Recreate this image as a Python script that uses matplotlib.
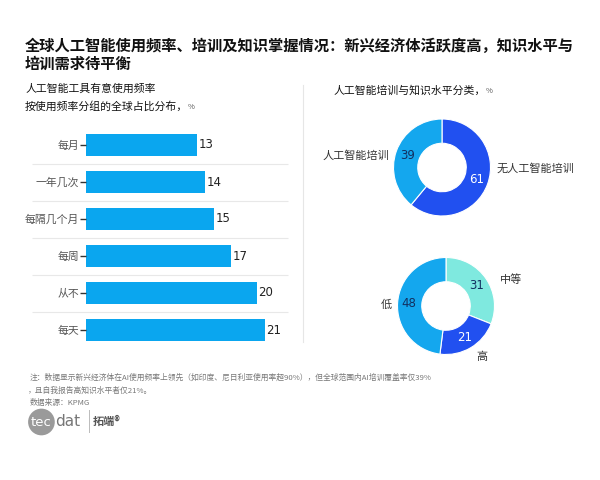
import numpy as np
import matplotlib
matplotlib.use('Agg')
import matplotlib.pyplot as plt

plt.rcParams['font.family'] = ['Noto Sans CJK SC', 'DejaVu Sans']

# bar data (top to bottom)
freq_labels = ['每月', '一年几次', '每隔几个月', '每周', '从不', '每天']
freq_values = [13, 14, 15, 17, 20, 21]

# donut data
train_labels = ['无人工智能培训', '人工智能培训']
train_values = [61, 39]
level_labels = ['中等', '高', '低']
level_values = [31, 21, 48]

bar_color = '#0aa6ef'
dark_blue = '#2150f0'
light_blue = '#14a7ee'
turq = '#7fe9df'

W, H = 600, 480
fig = plt.figure(figsize=(6, 4.8), dpi=100)
fig.patch.set_facecolor('white')


def fx(px):
    return px / W


def fy(py):
    return 1 - py / H


def with_pct(x, y, s):
    # text followed by a small grey % sign
    t = fig.text(fx(x), fy(y), s, fontsize=7.8, color='#111111', va='center')
    fig.canvas.draw()
    bb = t.get_window_extent()
    fig.text(bb.x1 / W, fy(y + 1), '%', fontsize=5.5, color='#555555', va='center')


# titles
fig.text(fx(25), fy(46), '全球人工智能使用频率、培训及知识掌握情况：新兴经济体活跃度高，知识水平与',
         fontsize=11, fontweight='bold', color='#111111', va='center')
fig.text(fx(25), fy(64), '培训需求待平衡', fontsize=11, fontweight='bold', color='#111111', va='center')
fig.text(fx(25), fy(89), '人工智能工具有意使用频率', fontsize=7.8, color='#111111', va='center')
with_pct(25, 106, '按使用频率分组的全球占比分布，')
with_pct(333, 90, '人工智能培训与知识水平分类，')

# divider
fig.add_artist(plt.Line2D([fx(303), fx(303)], [fy(85), fy(342)], color='#e6e6e6', lw=0.8))

# bar chart
ax = fig.add_axes([fx(86), fy(348.5), fx(204), (348.5 - 126.5) / H])
y = np.arange(len(freq_labels))
ax.barh(y, freq_values, height=0.6, color=bar_color)
ax.set_xlim(0, 23.9)
ax.set_ylim(-0.5, len(freq_labels) - 0.5)
ax.invert_yaxis()
ax.set_yticks(y)
ax.set_yticklabels(freq_labels, fontsize=7.8, color='#555555')
ax.tick_params(axis='y', length=4, width=1, color='#333333', pad=1)
ax.set_xticks([])
for s in ax.spines.values():
    s.set_visible(False)
ax.hlines(y[:-1] + 0.5, -0.265, 0.99, transform=ax.get_yaxis_transform(),
          color='#e8e8e8', lw=0.8, clip_on=False)
for yi, v in zip(y, freq_values):
    ax.text(v + 0.15, yi, str(v), va='center', ha='left', fontsize=8.5, color='#222222',
            family='DejaVu Sans')


def donut(cx, cy, r, values, colors, num_colors):
    a = fig.add_axes([fx(cx - r), fy(cy + r), fx(2 * r), 2 * r / H])
    wedges, _ = a.pie(values, colors=colors, startangle=90, counterclock=False,
                      radius=1, wedgeprops=dict(width=0.5, edgecolor='white', linewidth=0.8))
    a.set_xlim(-1, 1)
    a.set_ylim(-1, 1)
    a.set_aspect('equal')
    a.axis('off')
    for w, v, c in zip(wedges, values, num_colors):
        ang = np.deg2rad((w.theta1 + w.theta2) / 2)
        a.text(0.76 * np.cos(ang), 0.76 * np.sin(ang), str(v), ha='center', va='center',
               fontsize=8.5, color=c, family='DejaVu Sans')
    return a


a1 = donut(442, 167.5, 48.5, train_values, [dark_blue, light_blue], ['white', '#123060'])
a1.text(1.12, -0.02, train_labels[0], ha='left', va='center', fontsize=8, color='#333333')
a1.text(-1.08, 0.25, train_labels[1], ha='right', va='center', fontsize=8, color='#333333')

a2 = donut(446, 306, 48.5, level_values, [turq, dark_blue, light_blue], ['#123060', 'white', '#123060'])
a2.text(1.12, 0.54, level_labels[0], ha='left', va='center', fontsize=8, color='#333333')
a2.text(0.75, -1.04, level_labels[1], ha='center', va='center', fontsize=8, color='#333333')
a2.text(-1.12, 0.02, level_labels[2], ha='right', va='center', fontsize=8, color='#333333')

# notes
note_c = '#777777'
fig.text(fx(30), fy(378), '注：数据显示新兴经济体在AI使用频率上领先（如印度、尼日利亚使用率超90%），但全球范围内AI培训覆盖率仅39%',
         fontsize=5.6, color=note_c, va='center')
fig.text(fx(28), fy(391), '，且自我报告高知识水平者仅21%。', fontsize=5.6, color=note_c, va='center')
fig.text(fx(30), fy(403), '数据来源：KPMG', fontsize=5.6, color=note_c, va='center')

# logo
fig.text(fx(31), fy(422), 'tec', fontsize=9.5, color='white', va='center', family='DejaVu Sans',
         bbox=dict(boxstyle='circle,pad=0.22', fc='#9a9a9a', ec='none'))
fig.text(fx(55), fy(421), 'dat', fontsize=11, color='#777777', va='center', family='DejaVu Sans')
fig.add_artist(plt.Line2D([fx(89), fx(89)], [fy(410), fy(432)], color='#bbbbbb', lw=0.7))
fig.text(fx(93), fy(421), '拓端®', fontsize=8, color='#555555', fontweight='bold', va='center')

fig.savefig('out.png', dpi=100, facecolor='white')
